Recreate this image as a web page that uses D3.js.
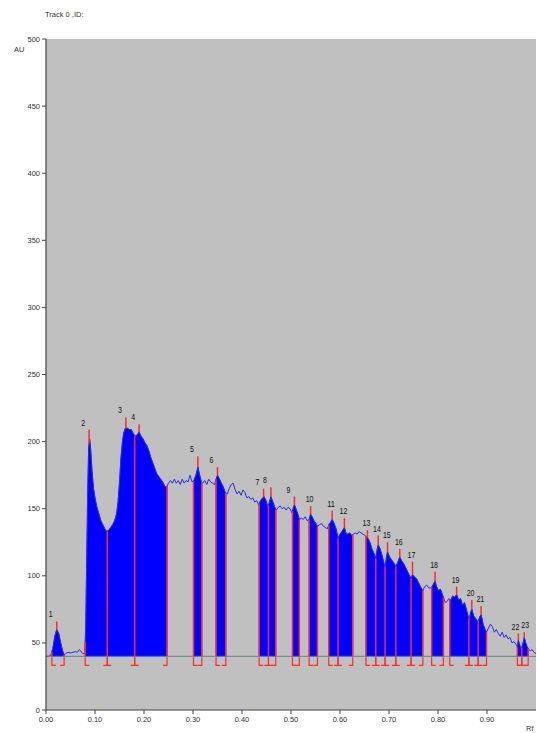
<!DOCTYPE html>
<html><head><meta charset="utf-8">
<script src="https://cdn.jsdelivr.net/npm/d3@7"></script>
<style>
html,body{margin:0;padding:0;background:#fff;}
svg{display:block;}
text{font-family:"Liberation Sans",Arial,sans-serif;}
</style></head>
<body>
<script>
// ---- data ----
const profileRf = [0.000,0.005,0.010,0.014,0.018,0.022,0.026,0.030,0.034,0.037,0.040,0.045,0.050,0.055,0.060,0.064,0.068,0.071,0.075,0.079,
0.081,0.083,0.085,0.087,0.089,0.091,0.094,0.097,0.100,0.104,0.108,0.112,0.116,0.120,0.124,0.128,0.132,0.136,0.140,0.144,
0.147,0.150,0.153,0.156,0.159,0.162,0.166,0.170,0.174,0.178,0.182,0.186,0.190,0.194,0.198,0.202,0.206,0.210,0.214,0.218,
0.222,0.226,0.230,0.234,0.238,0.242,0.246,0.250,0.254,0.258,0.262,0.266,0.270,0.274,0.278,0.282,0.286,0.290,0.294,0.298,
0.302,0.306,0.310,0.313,0.317,0.320,0.324,0.328,0.332,0.336,0.340,0.344,0.347,0.350,0.354,0.358,0.362,0.366,0.370,0.374,
0.378,0.382,0.386,0.390,0.394,0.398,0.402,0.406,0.410,0.414,0.418,0.422,0.426,0.430,0.434,0.438,0.442,0.445,0.449,0.453,
0.456,0.459,0.463,0.467,0.470,0.474,0.478,0.482,0.486,0.490,0.494,0.498,0.502,0.505,0.507,0.510,0.514,0.517,0.521,0.525,
0.529,0.533,0.537,0.540,0.543,0.547,0.551,0.554,0.558,0.562,0.566,0.570,0.574,0.577,0.581,0.584,0.588,0.592,0.596,0.600,
0.604,0.609,0.612,0.616,0.620,0.624,0.627,0.631,0.635,0.639,0.643,0.647,0.651,0.654,0.657,0.661,0.665,0.669,0.673,0.676,
0.678,0.682,0.686,0.690,0.692,0.695,0.697,0.701,0.705,0.709,0.714,0.718,0.722,0.726,0.730,0.734,0.738,0.742,0.745,0.748,
0.752,0.756,0.760,0.764,0.769,0.773,0.777,0.781,0.785,0.788,0.791,0.794,0.797,0.801,0.805,0.808,0.811,0.815,0.819,0.822,
0.826,0.830,0.834,0.838,0.842,0.846,0.850,0.854,0.858,0.862,0.864,0.867,0.869,0.873,0.877,0.880,0.883,0.886,0.888,0.892,
0.896,0.899,0.903,0.907,0.911,0.915,0.919,0.923,0.927,0.931,0.935,0.939,0.943,0.947,0.951,0.955,0.959,0.962,0.964,0.967,
0.970,0.973,0.976,0.979,0.982,0.984,0.988,0.992,0.996,1.000];
const profileAU = [40,40,41,46,55,60,57,50,44,41,42,43,42.5,43,43.5,43,45,44,42,42,
60,110,160,195,202,195,178,165,158,151,146,141,138,135,133,134,136,138,141,146,
155,170,188,200,207,210,210,209,209,206,204,205,207,204,202,199,197,193,188,184,
180,176,174,172,170,167,166,169,171,169,172,169,171,168,172,169,171,170,175,170,
171,175,181,176,170,169,171,168,172,170,169,168,172,175,172,169,166,162,161,165,
168,169,164,161,163,160,164,162,158,159,157,158,155,156,153,156,158,159,156,151,
155,159,155,151,149,151,152,150,151,149,151,150,147,151,153,150,146,142,143,142,
144,141,142,146,144,141,139,137,138,139,137,136,135,138,140,142,139,135,128,131,
133,136,132,131,132,130,131,132,131,133,132,131,130,129,128,125,120,117,113,120,
123,120,115,109,107,114,118,114,112,110,107,110,114,111,109,106,103,100,98,101,
99,98,95,92,89,92,93,91,91,92,94,96,92,89,90,87,84,80,81,83,
82,85,84,86,82,83,78,80,75,69,68,73,75,70,68,66,67,70,71,64,
60,58,61,64,62,58,60,57,55,58,54,56,53,54,50,51,49,47,52,48,
45,49,54,50,47,46,44,45,43,42];
const bandStart = [0.012,0.080,0.125,0.181,0.301,0.347,0.435,0.454,0.503,0.537,0.577,0.596,0.653,0.673,0.692,0.714,0.745,0.787,0.824,0.863,0.882,0.962,0.971];
const bandEnd   = [0.037,0.125,0.181,0.247,0.318,0.367,0.454,0.469,0.517,0.554,0.596,0.626,0.673,0.692,0.714,0.745,0.769,0.811,0.863,0.882,0.899,0.971,0.984];
const peakLabels = ["1","2","3","4","5","6","7","8","9","10","11","12","13","14","15","16","17","18","19","20","21","22","23"];
const peakRf  = [0.022,0.088,0.163,0.190,0.310,0.350,0.444,0.459,0.507,0.540,0.584,0.609,0.656,0.678,0.697,0.722,0.748,0.794,0.838,0.869,0.888,0.964,0.976];
const peakTop = [66,209,218,213,189,181,165,166,159,152,148.5,143,134,130,125,120,110.5,103,92,82,77.5,57,58];
const baselineAU = 40;
const xTicks = [0,0.1,0.2,0.3,0.4,0.5,0.6,0.7,0.8,0.9];
const xTickLabels = ["0.00","0.10","0.20","0.30","0.40","0.50","0.60","0.70","0.80","0.90"];
const yTicks = [0,50,100,150,200,250,300,350,400,450,500];

// ---- drawing ----
const W = 537, H = 733;
const svg = d3.select("body").append("svg").attr("width", W).attr("height", H);
const x = d3.scaleLinear().domain([0,1]).range([46,536]);
const y = d3.scaleLinear().domain([0,500]).range([710,39]);

const profile = profileRf.map((r,i)=>({rf:r, au:profileAU[i]}));
function valueAt(r){
  const i = d3.bisector(d=>d.rf).left(profile, r);
  if (i<=0) return profile[0].au;
  if (i>=profile.length) return profile[profile.length-1].au;
  const a = profile[i-1], b = profile[i];
  const t = (r-a.rf)/(b.rf-a.rf);
  return a.au + t*(b.au-a.au);
}

// plot background
svg.append("rect").attr("x",x(0)).attr("y",y(500)).attr("width",x(1)-x(0)).attr("height",y(0)-y(500)).attr("fill","#c0c0c0");

// filled bands
const area = d3.area().x(d=>x(d.rf)).y0(y(baselineAU)).y1(d=>y(d.au));
bandStart.forEach((s,i)=>{
  const e = bandEnd[i];
  const pts = [{rf:s, au:valueAt(s)}].concat(profile.filter(d=>d.rf>s && d.rf<e), [{rf:e, au:valueAt(e)}]);
  svg.append("path").attr("d", area(pts)).attr("fill","#0000ff").attr("stroke","#0000ff").attr("stroke-width",0.6);
});

// profile line
svg.append("path").datum(profile)
  .attr("d", d3.line().x(d=>x(d.rf)).y(d=>y(d.au)))
  .attr("fill","none").attr("stroke","#2a2ae0").attr("stroke-width",1);

// baseline
svg.append("line").attr("x1",x(0)).attr("x2",x(1)).attr("y1",y(baselineAU)).attr("y2",y(baselineAU))
  .attr("stroke","#5f8585").attr("stroke-width",1);

// band edge lines and brackets
const red = "#ff2a2a";
const edges = Array.from(new Set(bandStart.concat(bandEnd)));
edges.forEach(r=>{
  svg.append("line").attr("x1",x(r)).attr("x2",x(r)).attr("y1",y(baselineAU)).attr("y2",y(valueAt(r)))
    .attr("stroke",red).attr("stroke-width",1.5);
});
const yb = y(baselineAU);
bandStart.forEach(r=>{
  svg.append("path").attr("d",`M${x(r)},${yb+1}V${yb+9}h4`).attr("fill","none").attr("stroke",red).attr("stroke-width",1.2);
});
bandEnd.forEach(r=>{
  svg.append("path").attr("d",`M${x(r)},${yb+1}V${yb+9}h-4`).attr("fill","none").attr("stroke",red).attr("stroke-width",1.2);
});

// peak markers
peakRf.forEach((r,i)=>{
  svg.append("line").attr("x1",x(r)).attr("x2",x(r)).attr("y1",y(valueAt(r))).attr("y2",y(peakTop[i]))
    .attr("stroke",red).attr("stroke-width",1.5);
});

// peak labels, nudged apart when neighbours would collide
const charW = 3.9;
const labels = peakLabels.map((lbl,i)=>({
  text: lbl,
  cx: x(peakRf[i]) + (lbl.length===1 ? -6 : -1),
  cy: y(peakTop[i]) - 4,
  w: lbl.length*charW
}));
for (let i=1;i<labels.length;i++){
  const a = labels[i-1], b = labels[i];
  if (Math.abs(a.cy-b.cy) < 9){
    const gap = (b.cx - b.w/2) - (a.cx + a.w/2);
    if (gap < 2){
      const shift = (2-gap)/2;
      a.cx -= shift; b.cx += shift;
    }
  }
}
labels.forEach(l=>{
  svg.append("text").attr("x",l.cx).attr("y",l.cy)
    .attr("text-anchor","middle").attr("font-size",9.5).attr("fill","#111")
    .attr("textLength", l.w).attr("lengthAdjust","spacingAndGlyphs").text(l.text);
});

// axes
const axisColor = "#444";
svg.append("line").attr("x1",x(0)).attr("x2",x(0)).attr("y1",y(500)).attr("y2",y(0)).attr("stroke",axisColor).attr("stroke-width",1.2);
svg.append("line").attr("x1",x(0)).attr("x2",x(1)).attr("y1",y(0)).attr("y2",y(0)).attr("stroke",axisColor).attr("stroke-width",1.2);
yTicks.forEach(t=>{
  svg.append("line").attr("x1",x(0)-4).attr("x2",x(0)).attr("y1",y(t)).attr("y2",y(t)).attr("stroke",axisColor);
  svg.append("text").attr("x",x(0)-6).attr("y",y(t)+2.5).attr("text-anchor","end").attr("font-size",7.5).attr("fill","#333").text(t);
});
xTicks.forEach((t,i)=>{
  svg.append("line").attr("x1",x(t)).attr("x2",x(t)).attr("y1",y(0)).attr("y2",y(0)+4).attr("stroke",axisColor);
  svg.append("text").attr("x",x(t)).attr("y",y(0)+12).attr("text-anchor","middle").attr("font-size",7.5).attr("fill","#333").text(xTickLabels[i]);
});
svg.append("text").attr("x",14).attr("y",52).attr("font-size",7.5).attr("fill","#333").text("AU");
svg.append("text").attr("x",526).attr("y",731).attr("font-size",7.5).attr("fill","#333").text("Rf");
svg.append("text").attr("x",45).attr("y",17).attr("font-size",7.5).attr("fill","#333").text("Track 0 ,ID:");
</script>
</body></html>
